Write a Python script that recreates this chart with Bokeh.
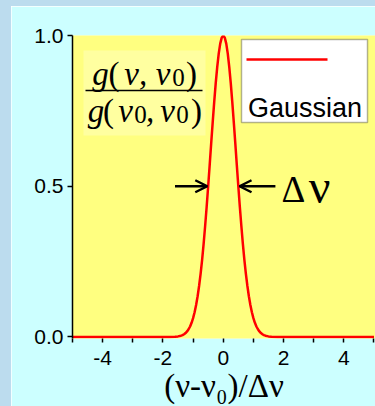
from bokeh.plotting import figure
from bokeh.models import Range1d, FixedTicker, BoxAnnotation, Label, Arrow, OpenHead, Spacer
from bokeh.layouts import row, column
from bokeh.embed import file_html
from bokeh.resources import INLINE

# ---------------- data ----------------
x_vals = [-5.0, -2.0, -1.8, -1.6, -1.5, -1.4, -1.35, -1.3, -1.25, -1.2, -1.15, -1.1, -1.05,
          -1.0, -0.95, -0.9, -0.85, -0.8, -0.75, -0.7, -0.65, -0.6, -0.55, -0.5, -0.45,
          -0.4, -0.35, -0.3, -0.25, -0.2, -0.15, -0.1, -0.05, 0.0,
          0.05, 0.1, 0.15, 0.2, 0.25, 0.3, 0.35, 0.4, 0.45, 0.5, 0.55, 0.6, 0.65,
          0.7, 0.75, 0.8, 0.85, 0.9, 0.95, 1.0, 1.05, 1.1, 1.15, 1.2, 1.25, 1.3,
          1.35, 1.4, 1.5, 1.6, 1.8, 2.0, 5.0]
y_vals = [0.0, 0.0, 0.0001, 0.0008, 0.002, 0.0044, 0.0064, 0.0092, 0.0131, 0.0185, 0.0256, 0.0349, 0.047,
          0.0625, 0.0819, 0.106, 0.135, 0.170, 0.210, 0.257, 0.310, 0.369, 0.432, 0.500, 0.570,
          0.642, 0.712, 0.779, 0.841, 0.895, 0.940, 0.973, 0.993, 1.0,
          0.993, 0.973, 0.940, 0.895, 0.841, 0.779, 0.712, 0.642, 0.570, 0.500, 0.432, 0.369, 0.310,
          0.257, 0.210, 0.170, 0.135, 0.106, 0.0819, 0.0625, 0.047, 0.0349, 0.0256, 0.0185, 0.0131, 0.0092,
          0.0064, 0.0044, 0.002, 0.0008, 0.0001, 0.0, 0.0]
series_name = "Gaussian"

x_ticks = [-4, -2, 0, 2, 4]
x_tick_labels = ["-4", "-2", "0", "2", "4"]
x_minor_ticks = [-5, -3, -1, 1, 3, 5]
y_ticks = [0.0, 0.5, 1.0]
y_tick_labels = ["0.0", "0.5", "1.0"]
x_title = "(\u03bd-\u03bd\u2080)/\u0394\u03bd"

half_max = 0.5
arrow_left = (-1.6, -0.53)    # tail, tip
arrow_right = (1.73, 0.54)

# ---------------- layout helpers (page pixel -> data) ----------------
X0, X1 = -5.0, 5.05
Y0, Y1 = -0.005, 1.0
FL, FT, FW, FH = 72, 35, 303, 303   # frame position on the page
PAD_L, PAD_T = 11, 6                # outer light-blue strips
OUTER = "#bcdcee"


def px2x(px):
    return X0 + (px - FL) * (X1 - X0) / FW


def py2y(py):
    return Y1 - (py - FT) * (Y1 - Y0) / FH


fig = figure(width=375 - PAD_L, height=406 - PAD_T, x_range=Range1d(X0, X1), y_range=Range1d(Y0, Y1),
             output_backend="svg", toolbar_location=None,
             min_border_left=FL - PAD_L, min_border_right=0, min_border_top=FT - PAD_T,
             min_border_bottom=406 - FT - FH)

fig.background_fill_color = "#ffff80"
fig.border_fill_color = "#ccffff"
fig.outline_line_color = None
fig.grid.visible = False

# axes
fig.xaxis.ticker = FixedTicker(ticks=x_ticks, minor_ticks=x_minor_ticks)
fig.xaxis.major_label_overrides = {t: s for t, s in zip(x_ticks, x_tick_labels)}
fig.yaxis.ticker = FixedTicker(ticks=y_ticks, minor_ticks=[])
fig.yaxis.major_label_overrides = {t: s for t, s in zip(y_ticks, y_tick_labels)}
for ax in (fig.xaxis, fig.yaxis):
    ax.major_label_text_font = "Liberation Sans"
    ax.major_label_text_font_size = "21px"
    ax.major_label_text_color = "black"
    ax.major_tick_in = 0
    ax.minor_tick_in = 0
    ax.major_tick_line_color = "black"
    ax.minor_tick_line_color = "black"
    ax.major_tick_line_width = 1.5
    ax.minor_tick_line_width = 1.5
fig.xaxis.axis_line_color = None
fig.xaxis.major_tick_out = 4
fig.xaxis.minor_tick_out = 4
fig.xaxis.major_label_standoff = 8
fig.xaxis.axis_label = x_title
fig.xaxis.axis_label_text_font = "Liberation Serif"
fig.xaxis.axis_label_text_font_style = "normal"
fig.xaxis.axis_label_text_font_size = "33px"
fig.xaxis.axis_label_text_color = "black"
fig.xaxis.axis_label_standoff = 0
fig.yaxis.axis_line_color = "black"
fig.yaxis.axis_line_width = 1.5
fig.yaxis.major_tick_out = 5
fig.yaxis.minor_tick_out = 0
fig.yaxis.major_label_standoff = 4

# curve
fig.line(x_vals, y_vals, line_color="#ff0000", line_width=2.5)

# y-label fraction box
fig.add_layout(BoxAnnotation(left=px2x(83), right=px2x(205), top=py2y(50), bottom=py2y(135),
                             fill_color="#ffffa0", fill_alpha=1.0, line_color=None, level="underlay"))
fig.add_layout(Arrow(end=None, x_start=px2x(85), y_start=py2y(90), x_end=px2x(202), y_end=py2y(90),
                     line_color="black", line_width=1.5))

SERIF = "Liberation Serif"
SANS = "Liberation Sans"
DROP = 0.27   # Bokeh places the alphabetic baseline this fraction of the size lower
pieces = [
    # numerator (centre x, baseline y on the page)
    ("g", 100, 82, 33, SERIF, "italic"),
    ("(", 113.5, 82, 33, SERIF, "normal"),
    ("\u03bd", 131, 82, 33, SERIF, "italic"),
    (",", 142.5, 82, 33, SERIF, "italic"),
    ("\u03bd", 162.5, 82, 33, SERIF, "italic"),
    ("0", 178, 84, 25, SERIF, "normal"),
    (")", 191, 82, 33, SERIF, "normal"),
    # denominator
    ("g", 95.5, 119, 33, SERIF, "italic"),
    ("(", 108, 119, 33, SERIF, "normal"),
    ("\u03bd", 125, 119, 33, SERIF, "italic"),
    ("0", 140, 121, 25, SERIF, "normal"),
    (",", 149.5, 119, 33, SERIF, "italic"),
    ("\u03bd", 167, 119, 33, SERIF, "italic"),
    ("0", 182, 121, 25, SERIF, "normal"),
    (")", 196, 119, 33, SERIF, "normal"),
    # delta nu
    ("\u0394", 293, 199, 37, SERIF, "normal"),
    ("\u03bd", 319, 199, 48, SERIF, "normal"),
]
for txt, cx, py, size, font, style in pieces:
    fig.add_layout(Label(x=px2x(cx), y=py2y(py - DROP * size), text=txt, text_font=font,
                         text_font_size=f"{size}px", text_font_style=style,
                         text_align="center", text_baseline="alphabetic", text_color="black"))

# FWHM arrows
for tail, tip in (arrow_left, arrow_right):
    fig.add_layout(Arrow(end=OpenHead(size=12, line_width=2.5, line_color="black"),
                         x_start=tail, y_start=half_max, x_end=tip, y_end=half_max,
                         line_color="black", line_width=2.5))

# legend (line above label)
fig.add_layout(BoxAnnotation(left=px2x(241), right=px2x(367), top=py2y(39), bottom=py2y(122),
                             fill_color="white", fill_alpha=1.0, line_color="black", line_width=1.5))
fig.add_layout(Arrow(end=None, x_start=px2x(246), y_start=py2y(59), x_end=px2x(327), y_end=py2y(59),
                     line_color="#ff0000", line_width=2.5))
fig.add_layout(Label(x=px2x(304.5), y=py2y(115 - DROP * 27), text=series_name, text_font=SANS,
                     text_font_size="27px", text_align="center", text_baseline="alphabetic",
                     text_color="black"))

left_strip = Spacer(width=PAD_L, height=406 - PAD_T, styles={"background-color": OUTER})
top_strip = Spacer(width=375, height=PAD_T, styles={"background-color": OUTER})
p = column(top_strip, row(left_strip, fig, spacing=0), spacing=0)

open("out.html", "w").write(file_html(p, INLINE))
